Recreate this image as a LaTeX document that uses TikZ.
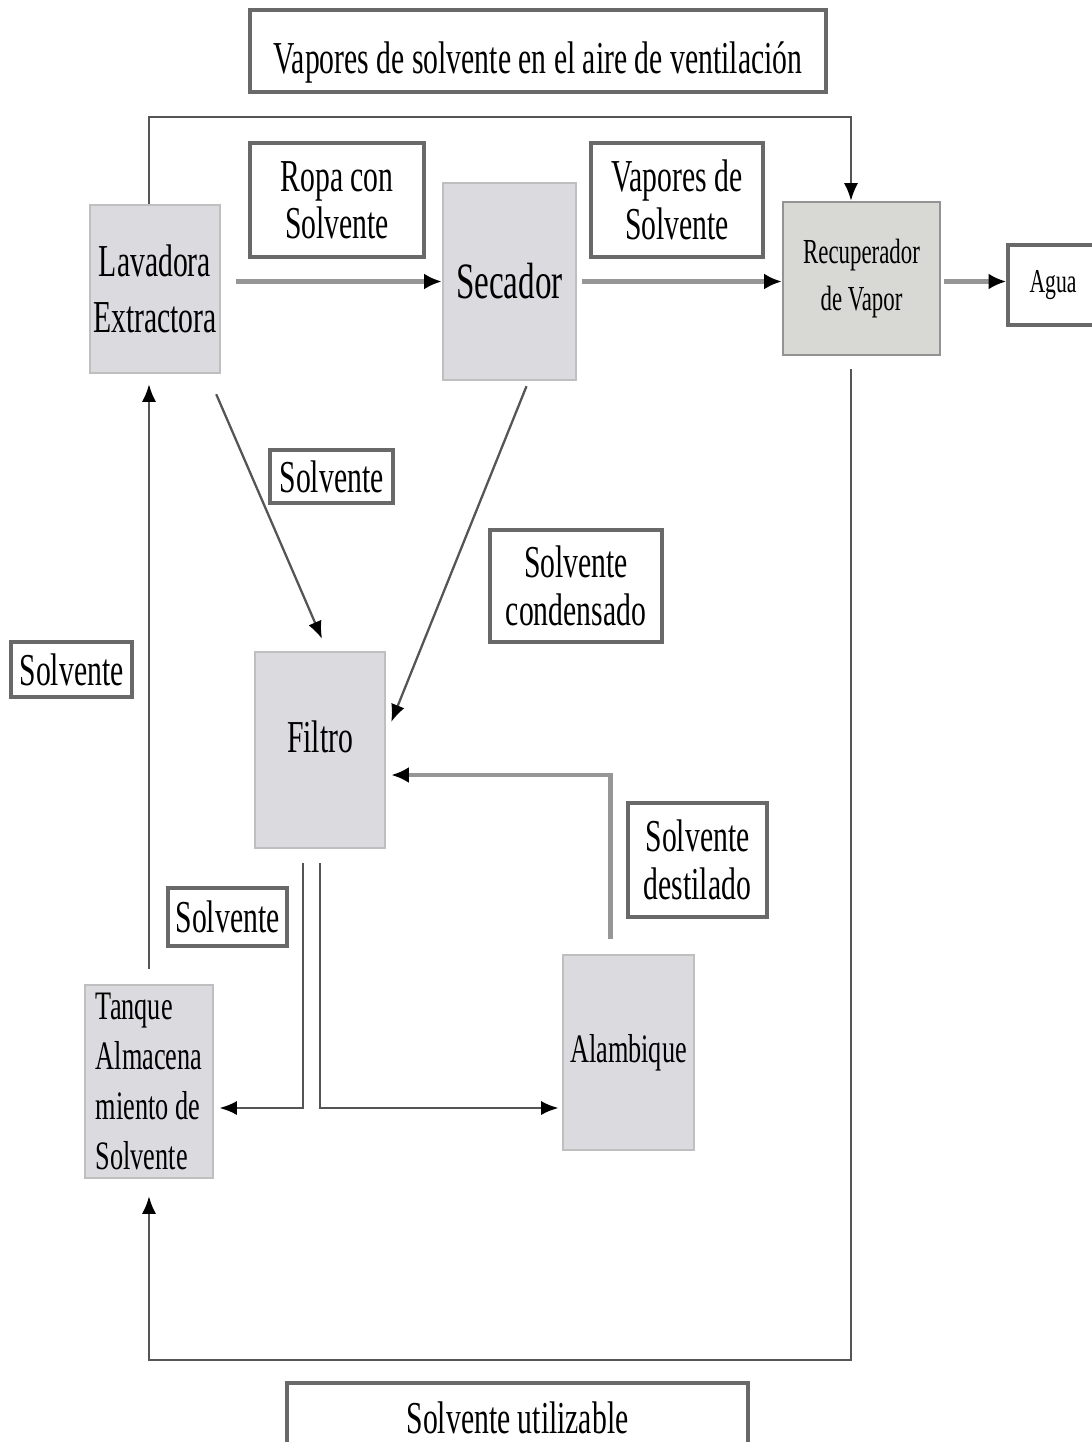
\documentclass[tikz,border=0pt]{standalone}
\usepackage{fontspec}
\setmainfont[FakeStretch=0.65]{Liberation Serif}
\usetikzlibrary{positioning, arrows.meta, calc}

\definecolor{boxgray}{RGB}{219,219,223}
\definecolor{recgray}{RGB}{216,216,212}
\definecolor{flowgray}{RGB}{150,150,150}
\definecolor{linegray}{RGB}{85,85,85}
\definecolor{edgegray}{RGB}{105,105,105}

\begin{document}
\begin{tikzpicture}[x=0.02cm, y=-0.02cm,
        unit/.style={rectangle, fill=boxgray, draw=gray!50, line width=1.4pt, align=center, inner sep=0pt, font=\fontsize{26}{32}\selectfont},
        stream/.style={rectangle, fill=white, draw=edgegray, line width=2pt, align=center, inner sep=0pt, font=\fontsize{26}{27}\selectfont},
        line/.style={draw=linegray, line width=1.3pt, -{Latex[length=10pt,width=8pt,color=black]}},
        pipe/.style={draw=flowgray, line width=2.8pt, -{Latex[length=10pt,width=9pt,color=black]}}]

        \useasboundingbox (0,0) rectangle (1091,1442);

        % === EQUIPOS ===
        \node (lav) [unit, minimum width=2.6cm, minimum height=3.36cm] at (155,289) {Lavadora\\Extractora};
        \node (sec) [unit, minimum width=2.66cm, minimum height=3.94cm, font=\fontsize{29}{34}\selectfont] at (509.5,281.5) {Secador};
        \node (rec) [unit, fill=recgray, draw=gray!85, minimum width=3.14cm, minimum height=3.06cm, font=\fontsize{20}{27}\selectfont] at (861.5,278.5) {Recuperador\\de Vapor};
        \node (fil) [unit, minimum width=2.6cm, minimum height=3.92cm, text height=0.6cm, text depth=0.5cm] at (320,750) {Filtro};
        \node (tan) [unit, minimum width=2.56cm, minimum height=3.86cm, align=left, font=\fontsize{23}{28.5}\selectfont] at (149,1081.5) {Tanque\\Almacena\\miento de\\Solvente};
        \node (alm) [unit, minimum width=2.62cm, minimum height=3.9cm, font=\fontsize{23}{28}\selectfont] at (628.5,1052.5) {Alambique};

        % === CORRIENTES ===
        \node (vent) [stream, minimum width=11.52cm, minimum height=1.64cm, text height=0.9cm, text depth=0cm] at (538,51) {Vapores de solvente en el aire de ventilación};
        \node (ropa) [stream, minimum width=3.48cm, minimum height=2.28cm] at (337,200) {Ropa con\\Solvente};
        \node (vap) [stream, minimum width=3.44cm, minimum height=2.28cm] at (677,200) {Vapores de\\Solvente};
        \node (agua) [stream, minimum width=1.8cm, minimum height=1.6cm, font=\fontsize{19}{22}\selectfont] at (1053,285) {Agua};
        \node (sol1) [stream, minimum width=2.46cm, minimum height=1.06cm] at (331.5,476.5) {Solvente};
        \node (cond) [stream, minimum width=3.44cm, minimum height=2.24cm] at (576,586) {Solvente\\condensado};
        \node (sol2) [stream, minimum width=2.42cm, minimum height=1.1cm] at (71.5,669.5) {Solvente};
        \node (dest) [stream, minimum width=2.78cm, minimum height=2.28cm] at (697.5,860) {Solvente\\destilado};
        \node (sol3) [stream, minimum width=2.38cm, minimum height=1.16cm] at (227.5,917) {Solvente};
        \node (util) [stream, minimum width=9.22cm, minimum height=1.4cm] at (517.5,1418) {Solvente utilizable};

        \coordinate (ctop) at (851,117);
        \coordinate (cbot) at (851,1360);

        % === FLUJOS ===
        \draw [line] (lav.north -| tan.north) |- (ctop) -- (ctop |- rec.north);
        \draw [pipe] ($(lav.east |- sec.west)+(15,0)$) -- (sec.west);
        \draw [pipe] ($(sec.east)+(5,0)$) -- (rec.west |- sec.east);
        \draw [pipe] ($(rec.east |- sec.east)+(3,0)$) -- (agua.west |- sec.east);
        \draw [line] ($(lav.south east)+(-5,20)$) -- ($(fil.north)+(2,-12)$);
        \draw [line] ($(sec.south)+(17,5)$) -- ($(fil.east)+(5,-28)$);
        \draw [pipe] ($(alm.north)+(-18,-15)$) |- ($(fil.east)+(5,25)$);
        \draw [line, line width=1.6pt] ($(fil.south)+(-17,14)$) |- ($(tan.east)+(5,26.5)$);
        \draw [line, line width=1.6pt] ($(fil.south)+(0,14)$) |- ($(alm.west)+(-3,55.5)$);
        \draw [line] ($(tan.north)+(0,-15)$) -- ($(lav.south -| tan.north)+(0,10)$);
        \draw [line] ($(rec.south -| cbot)+(0,13)$) -- (cbot) -| ($(tan.south)+(0,17)$);

\end{tikzpicture}
\end{document}
